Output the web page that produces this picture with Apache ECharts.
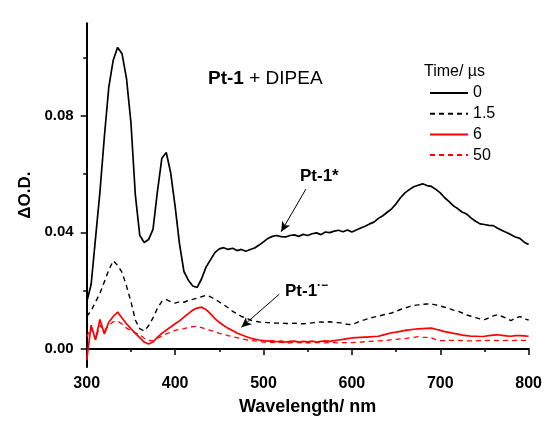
<!DOCTYPE html>
<html>
<head>
<meta charset="utf-8">
<script src="https://cdn.jsdelivr.net/npm/echarts@6/dist/echarts.min.js"></script>
<style>
html,body{margin:0;padding:0;background:#fff;}
#chart{width:545px;height:421px;}
</style>
</head>
<body>
<div id="chart"></div>
<script>
// ---- Data ----
const wavelength = [300,305,310,315,320,325,330,335,340,345,350,355,360,365,370,375,380,385,390,395,
400,405,410,415,420,425,430,435,440,445,450,455,460,465,470,475,480,485,490,495,
500,505,510,515,520,525,530,535,540,545,550,555,560,565,570,575,580,585,590,595,
600,605,610,615,620,625,630,635,640,645,650,655,660,665,670,675,680,685,690,695,
700,705,710,715,720,725,730,735,740,745,750,755,760,765,770,775,780,785,790,795,800];

const od_0us = [0.016,0.022,0.038,0.054,0.073,0.090,0.0993,0.1037,0.1015,0.093,0.078,0.053,0.039,0.0365,0.0375,0.041,0.054,0.0655,0.0675,0.0605,
0.049,0.036,0.0265,0.0235,0.0215,0.021,0.024,0.028,0.0305,0.033,0.0343,0.0347,0.0341,0.0345,0.0337,0.0341,0.0335,0.0341,0.0346,0.0356,
0.0367,0.0379,0.0386,0.0389,0.0385,0.0384,0.0389,0.0391,0.0386,0.0393,0.0389,0.0395,0.0398,0.0392,0.0401,0.0399,0.0404,0.0407,0.0402,0.0408,
0.0401,0.0408,0.0415,0.0421,0.0429,0.0435,0.0448,0.0457,0.0469,0.0481,0.0498,0.0519,0.0536,0.0547,0.0557,0.0562,0.0567,0.0561,0.0558,0.0548,
0.0536,0.0519,0.0506,0.0491,0.0481,0.0469,0.0463,0.0449,0.0438,0.0429,0.0427,0.0424,0.0423,0.0414,0.0406,0.0399,0.0392,0.0384,0.0379,0.0366,0.0358];

const od_1_5us = [0.011,0.013,0.016,0.019,0.023,0.027,0.0302,0.0286,0.0262,0.0215,0.0162,0.0098,0.0068,0.006,0.0078,0.0105,0.0138,0.0162,0.0168,0.0161,
0.0156,0.0161,0.0159,0.0165,0.0169,0.0173,0.0178,0.0183,0.0178,0.017,0.016,0.015,0.014,0.0128,0.012,0.011,0.0105,0.0098,0.0094,0.0091,
0.009,0.0089,0.0088,0.0087,0.0088,0.0086,0.0086,0.0087,0.0085,0.0085,0.0086,0.0088,0.009,0.0091,0.009,0.0092,0.009,0.0089,0.0086,0.0083,
0.0082,0.0088,0.0095,0.0099,0.0104,0.0108,0.0111,0.0115,0.0119,0.0122,0.0128,0.0134,0.0139,0.0144,0.0148,0.015,0.0152,0.0153,0.0153,0.015,
0.0146,0.0142,0.0137,0.0132,0.0128,0.0122,0.0115,0.0111,0.0106,0.0102,0.0099,0.0105,0.0112,0.0116,0.011,0.0104,0.0096,0.0104,0.011,0.0102,0.0098];

const od_6us = [-0.004,0.008,0.003,0.010,0.005,0.009,0.011,0.0125,0.0105,0.0085,0.0068,0.0052,0.0037,0.0022,0.0015,0.0022,0.0038,0.0052,0.0063,0.0074,
0.0085,0.0095,0.0108,0.012,0.0132,0.0139,0.0142,0.0134,0.012,0.0103,0.009,0.0079,0.0069,0.0062,0.0053,0.0047,0.0041,0.0036,0.0032,0.0029,
0.0027,0.0025,0.0026,0.0023,0.0025,0.0022,0.0024,0.0025,0.0022,0.0024,0.0023,0.0025,0.0022,0.0024,0.0026,0.0024,0.0027,0.0029,0.0031,0.0034,
0.0036,0.0037,0.0038,0.0039,0.004,0.0041,0.0042,0.0046,0.005,0.0054,0.0056,0.0059,0.0062,0.0064,0.0066,0.0067,0.0068,0.0069,0.007,0.0066,
0.0062,0.0058,0.0055,0.0052,0.0049,0.0046,0.0044,0.0042,0.0042,0.0041,0.0042,0.0044,0.0046,0.0047,0.0045,0.0043,0.0042,0.0044,0.0044,0.0043,0.0042];

const od_50us = [0.004,0.007,0.003,0.008,0.006,0.008,0.0092,0.0094,0.0084,0.007,0.0062,0.0054,0.0048,0.0035,0.0028,0.0026,0.0035,0.0042,0.005,0.0056,
0.0062,0.0066,0.0068,0.0072,0.0075,0.0076,0.0072,0.0066,0.0062,0.0058,0.0052,0.0048,0.0044,0.0041,0.0037,0.0034,0.003,0.0028,0.0026,0.0024,
0.0022,0.0021,0.0021,0.002,0.0021,0.002,0.0019,0.002,0.002,0.0019,0.002,0.0019,0.002,0.002,0.0019,0.002,0.002,0.0019,0.002,0.002,
0.002,0.0021,0.0022,0.0023,0.0024,0.0025,0.0026,0.0027,0.0028,0.003,0.0031,0.0033,0.0034,0.0036,0.0038,0.0041,0.0039,0.0038,0.0036,0.003,
0.0027,0.0027,0.0028,0.0028,0.0028,0.0027,0.0026,0.0026,0.0026,0.0027,0.0027,0.0028,0.0028,0.0027,0.0027,0.0028,0.0027,0.0028,0.0028,0.0028,0.0028];

const seriesNames = ['0', '1.5', '6', '50'];
const xTicks = [300, 400, 500, 600, 700, 800];
const yMajorTicks = [0, 0.04, 0.08];
const yMinorTicks = [0.02, 0.06, 0.10];

// arrows (data coordinates: wavelength, ΔO.D.)
const arrowStar = [[548, 0.0549], [520, 0.0402]];
const arrowAnion = [[518, 0.0187], [475, 0.0073]];

const FONT = 'Liberation Sans, Arial, sans-serif';
const pairs = arr => wavelength.map((w, i) => [w, arr[i]]);

const chart = echarts.init(document.getElementById('chart'), null, {renderer: 'canvas'});

const option = {
  backgroundColor: '#fff',
  animation: false,
  grid: {left: 86.7, right: 14.3, top: 23.3, bottom: 51.7},
  legend: {
    orient: 'vertical',
    left: 424,
    top: 80,
    itemWidth: 38,
    itemHeight: 16,
    itemGap: 4.7,
    data: seriesNames,
    itemStyle: {opacity: 0},
    textStyle: {fontFamily: FONT, fontSize: 16, color: '#000', lineHeight: 16}
  },
  xAxis: {
    type: 'value',
    min: xTicks[0],
    max: xTicks[xTicks.length - 1],
    interval: 100,
    name: 'Wavelength/ nm',
    nameLocation: 'middle',
    nameGap: 31,
    nameTextStyle: {fontFamily: FONT, fontSize: 18, fontWeight: 'bold', color: '#000'},
    axisLine: {lineStyle: {color: '#000', width: 2}},
    axisTick: {show: true, inside: false, length: 6.5, lineStyle: {color: '#000', width: 1.5}},
    minorTick: {show: true, splitNumber: 2, length: 3.5, lineStyle: {color: '#000', width: 1.5}},
    axisLabel: {fontFamily: FONT, fontSize: 16, fontWeight: 'bold', color: '#000', margin: 9},
    splitLine: {show: false},
    minorSplitLine: {show: false}
  },
  yAxis: [{
    type: 'value',
    min: -0.0064,
    max: 0.112,
    name: 'ΔO.D.',
    nameLocation: 'middle',
    nameGap: 53,
    nameRotate: 90,
    nameTextStyle: {fontFamily: FONT, fontSize: 17, fontWeight: 'bold', color: '#000'},
    axisLine: {show: true, lineStyle: {color: '#000', width: 2}},
    axisTick: {show: true, length: 6, customValues: yMajorTicks, lineStyle: {color: '#000', width: 1.5}},
    axisLabel: {customValues: yMajorTicks, fontFamily: FONT, fontSize: 15, fontWeight: 'bold', color: '#000', margin: 13,
      formatter: v => v.toFixed(2)},
    splitLine: {show: false}
  }, {
    type: 'value',
    min: -0.0064,
    max: 0.112,
    position: 'left',
    axisLine: {show: false},
    axisTick: {show: true, length: 3.5, customValues: yMinorTicks, lineStyle: {color: '#000', width: 1.5}},
    axisLabel: {show: false},
    splitLine: {show: false}
  }],
  series: [
    {
      name: seriesNames[0], type: 'line', data: pairs(od_0us), symbol: 'none',
      lineStyle: {color: '#000', width: 1.7, type: 'solid'}, itemStyle: {color: '#000'}, z: 4,
      markLine: {
        silent: true, animation: false, label: {show: false},
        symbol: ['none', 'arrow'], symbolSize: [7, 10],
        data: [
          [{coord: arrowStar[0], lineStyle: {color: '#000', width: 1, type: 'solid'}}, {coord: arrowStar[1]}],
          [{coord: arrowAnion[0], lineStyle: {color: '#000', width: 1, type: 'solid'}}, {coord: arrowAnion[1]}],
          [{yAxis: 0, symbol: 'none', lineStyle: {color: '#808080', width: 1, type: 'solid'}}, {x: '97.4%', yAxis: 0, symbol: 'none'}]
        ]
      }
    },
    {
      name: seriesNames[1], type: 'line', data: pairs(od_1_5us), symbol: 'none',
      lineStyle: {color: '#000', width: 1.4, type: [5, 4]}, itemStyle: {color: '#000'}, z: 3
    },
    {
      name: seriesNames[2], type: 'line', data: pairs(od_6us), symbol: 'none',
      lineStyle: {color: '#ff0000', width: 1.7, type: 'solid'}, itemStyle: {color: '#ff0000'}, z: 3
    },
    {
      name: seriesNames[3], type: 'line', data: pairs(od_50us), symbol: 'none',
      lineStyle: {color: '#ff0000', width: 1.3, type: [5, 4]}, itemStyle: {color: '#ff0000'}, z: 2
    }
  ],
  graphic: [
    {
      type: 'text', left: 208, top: 69, z: 10,
      style: {
        text: '{b|Pt-1} + DIPEA', fill: '#000', font: '19px ' + FONT,
        rich: {b: {fontWeight: 'bold', fontSize: 19, fontFamily: FONT, fill: '#000'}}
      }
    },
    {
      type: 'text', left: 424, top: 64, z: 10,
      style: {text: 'Time/ µs', fill: '#000', font: '16px ' + FONT}
    },
    {
      type: 'text', left: 300, top: 168, z: 10,
      style: {text: 'Pt-1*', fill: '#000', font: 'bold 17px ' + FONT}
    },
    {
      type: 'text', left: 285, top: 280, z: 10,
      style: {
        text: '{b|Pt-1}{s|·−}', fill: '#000',
        rich: {
          b: {fontWeight: 'bold', fontSize: 17, fontFamily: FONT, fill: '#000', verticalAlign: 'bottom'},
          s: {fontWeight: 'bold', fontSize: 12, fontFamily: FONT, fill: '#000', verticalAlign: 'top', padding: [0, 0, 8, 0]}
        }
      }
    }
  ]
};

chart.setOption(option);
</script>
</body>
</html>
